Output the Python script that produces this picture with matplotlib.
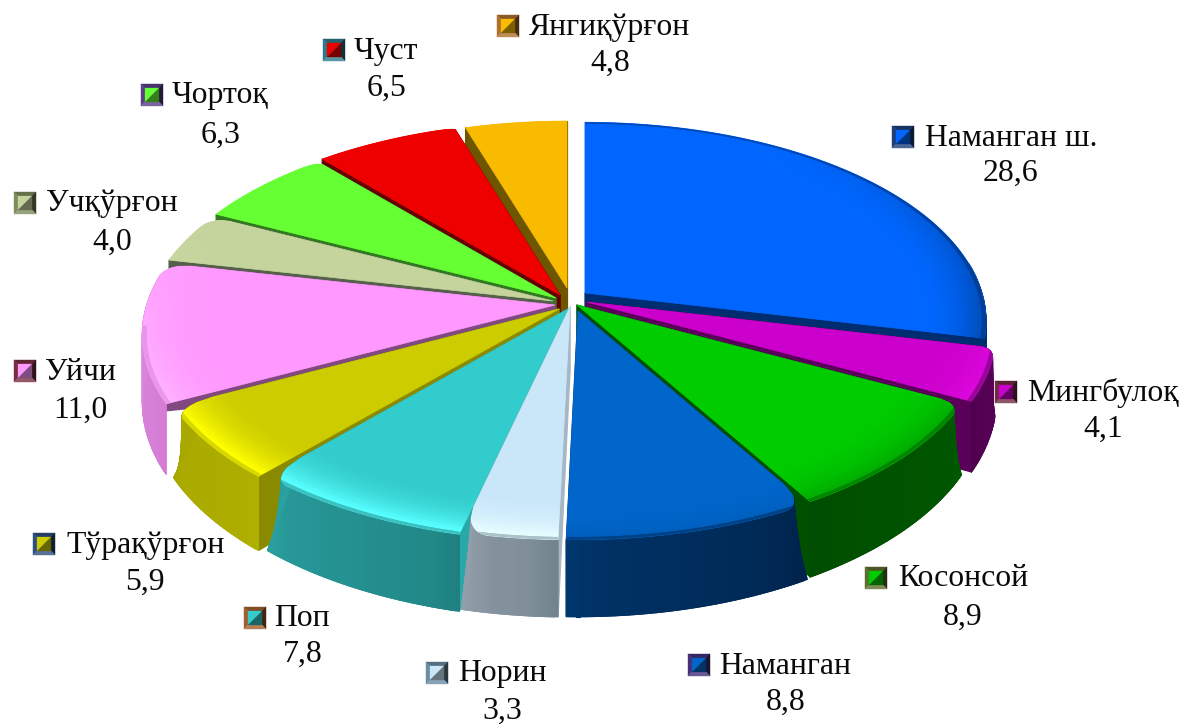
import numpy as np
import matplotlib
matplotlib.use("Agg")
import matplotlib.pyplot as plt
from matplotlib.colors import to_rgb
from matplotlib.patches import Polygon

# ---- data ----
categories = ["Наманган ш.", "Мингбулоқ", "Косонсой", "Наманган", "Норин", "Поп",
              "Тўрақўрғон", "Уйчи", "Учқўрғон", "Чортоқ", "Чуст", "Янгиқўрғон"]
values = [28.6, 4.1, 8.9, 8.8, 3.3, 7.8, 5.9, 11.0, 4.0, 6.3, 6.5, 4.8]

# ---- styles ----
top_col = ["#0066FF", "#CC00CC", "#00CC00", "#0066CC", "#CAE7FA", "#33CCCC",
           "#CCCC00", "#FF99FF", "#C5D49D", "#66FF33", "#EE0000", "#F9BB00"]
hi_col = ["#0050C0", "#DE08DE", "#00B000", "#0060C0", "#E6FDFF", "#58FFFF",
          "#FFFF00", "#FFB4FF", "#DCE8B8", "#78FF50", "#FF1010", "#FFC810"]
side_a = ["#002C70", "#5A005A", "#005A00", "#00234A", "#72838E", "#1F8080",
          "#B0B000", "#D47CD4", "#55604A", "#2F7A1E", "#660000", "#6E5500"]
side_b = ["#002C70", "#500050", "#004C00", "#00376E", "#929EA9", "#2AA0A0",
          "#A8A800", "#E08AE0", "#55604A", "#2F7A1E", "#660000", "#6E5500"]
strip = ["#002C70", "#5A005A", "#005000", "#00376E", "#A6B6C4", "#2AA8A8",
         "#8A8A00", "#804A80", "#55604A", "#2F7A1E", "#660000", "#6E5500"]
key_border = ["#1E3F7A", "#702C40", "#5E6E30", "#46307A", "#6A8CA4", "#A0602E",
              "#2C4E80", "#7A2E40", "#7C8C5C", "#5A3F8A", "#2E7A8A", "#B0702E"]
apex_x = [585, 587, 577, 578, 570, 568, 559, 555, 553, 556, 560, 567]
apex_y = [293, 302, 305, 311, 307, 309, 309, 305, 301, 298, 295, 288]
radius = [0.98, 1.0, 1.0, 0.985, 1.0, 1.0, 1.0, 1.008, 1.0, 1.0, 1.0, 0.955]
corner = [0.0, 0.03, 0.05, 0.09, 0.10, 0.10, 0.10, 0.06, 0.05, 0.02, 0.01, 0.0]
wall_z = [1, 1, 1, 1, 1, 1, 1, 0.1, 0.3, 1, 1, 1]

key_x = [892, 995, 865, 688, 426, 244, 33, 14, 14, 141, 323, 497]
key_y = [137, 392, 578, 665, 673, 618, 544, 371, 203, 95, 50, 26]
text_x = [925, 1027, 898, 719, 458, 274, 66, 45, 46, 172, 354, 529]
val_x = [1011, 1103, 963, 786, 502, 303, 145, 80, 112, 221, 386, 610]
val_y = [173, 429, 617, 702, 711, 654, 582, 410, 242, 135, 88, 63]

AX, AY, K, D = 405.0, 199.0, 0.145, 66.0
FONT = "Liberation Serif"
FS = 22.9


def proj(ax0, ay0, r, th, z=0.0):
    u, v = r * np.sin(th), r * np.cos(th)
    w = 1 + K * v
    return ax0 + AX * u / w, ay0 - AY * v / w + z * D / w


def mix(a, b, t):
    a, b = np.array(to_rgb(a)), np.array(to_rgb(b))
    return tuple(a + (b - a) * float(np.clip(t, 0, 1)))


fig = plt.figure(figsize=(11.84, 7.24), dpi=100)
ax = fig.add_axes([0, 0, 1, 1])
ax.set_xlim(0, 1184)
ax.set_ylim(724, 0)
ax.axis("off")

edges = np.r_[0, np.cumsum(values)] / np.sum(values) * 2 * np.pi
mids = (edges[:-1] + edges[1:]) / 2
order = np.argsort(-np.cos(mids))


def rim_fn(i, a0, a1):
    back_end = a0 if np.cos(a0) > np.cos(a1) else a1
    delta = np.radians(3.5)
    amt = corner[i]

    def f(t):
        d = np.clip(np.abs(t - back_end) / delta, 0, 1)
        return radius[i] * (1 - amt * (1 - np.sqrt(1 - (1 - d) ** 2)))
    return f


def poly(xs, ys, c, zo, lw=0.8):
    return ax.fill(xs, ys, facecolor=c, edgecolor=c, linewidth=lw, zorder=zo, joinstyle="round")[0]


zo = 1
for i in order:
    a0, a1 = edges[i], edges[i + 1]
    ox, oy = apex_x[i], apex_y[i]
    rim = rim_fn(i, a0, a1)
    n = max(16, int(np.degrees(a1 - a0) * 1.2))
    ths = np.unique(np.r_[np.linspace(a0, a1, n),
                          np.linspace(a0, a0 + np.radians(3.5), 10),
                          np.linspace(a1 - np.radians(3.5), a1, 10)])

    # radial walls
    for end in (a0, a1):
        x1, y1 = proj(ox, oy, rim(np.array(end)), end)
        x2, y2 = proj(ox, oy, radius[i], end, wall_z[i])
        x3, y3 = proj(ox, oy, 0.0, end, 1.0)
        poly([ox, x1, x2, x3], [oy, y1, y2, y3], strip[i], zo)
    zo += 1

    # outer wall with a colour ramp across the arc (quads overlap to avoid seams)
    for j in range(len(ths) - 1):
        jn = min(j + 2, len(ths) - 1)
        t = np.array([ths[j], ths[jn]])
        if np.cos(t.mean()) < 0.15:
            xt, yt = proj(ox, oy, rim(t), t)
            xb, yb = proj(ox, oy, radius[i], t, 1.0)
            poly([xt[0], xt[1], xb[1], xb[0]], [yt[0], yt[1], yb[1], yb[0]],
                 mix(side_a[i], side_b[i], j / (len(ths) - 2)), zo)
    zo += 1

    # flat top
    xt, yt = proj(ox, oy, rim(ths), ths)
    top = Polygon(np.c_[np.r_[ox, xt], np.r_[oy, yt]], closed=True, facecolor=top_col[i],
                  edgecolor=top_col[i], linewidth=0.5, zorder=zo)
    ax.add_patch(top)
    zo += 1

    # bevel band along the rim, cut off by the slice's outline
    rhos = np.linspace(0.84, 1.0, 17)
    ring_t = np.linspace(a0, a1, n)
    for k in range(len(rhos) - 1):
        rin = rhos[k] * radius[i]
        rout = rhos[min(k + 2, len(rhos) - 1)] * radius[i]
        f = ((rhos[k] + rhos[k + 1]) / 2 - 0.84) / 0.16
        for j in range(len(ring_t) - 1):
            jn = min(j + 2, len(ring_t) - 1)
            t = np.array([ring_t[j], ring_t[jn]])
            tm = t.mean()
            base_w = 0.85 - np.cos(tm) if i == 0 else 0.35 - np.cos(tm)
            weight = np.clip(base_w * 1.1, 0, 1.0)
            c = mix(top_col[i], hi_col[i], weight * f ** 2.0 * 1.2)
            if rhos[k] > 0.985 and (np.cos(tm) < -0.1 or i == 0):
                c = mix(c, side_a[i], 0.5)
            xi, yi = proj(ox, oy, rin, t)
            xo, yo = proj(ox, oy, rout, t)
            p = poly([xi[0], xi[1], xo[1], xo[0]], [yi[0], yi[1], yo[1], yo[0]], c, zo, lw=0)
            p.set_clip_path(top)
    zo += 1

# labels with bevelled legend keys
S = 11
B_W = 4
for i, name in enumerate(categories):
    cx, cy = key_x[i] + S, key_y[i]
    L, R, T, B = cx - S, cx + S, cy - S, cy + S
    il, ir, it, ib = L + B_W, R - B_W, T + B_W, B - B_W
    bc = key_border[i]
    poly([L, R, ir, il], [T, T, it, it], mix(bc, "#000000", 0.2), 100, lw=0.3)
    poly([L, il, il, L], [T, it, ib, B], bc, 100, lw=0.3)
    poly([R, ir, ir, R], [T, it, ib, B], mix(bc, "#000000", 0.6), 100, lw=0.3)
    poly([L, R, ir, il], [B, B, ib, ib], mix(bc, "#FFFFFF", 0.2), 100, lw=0.3)
    poly([il, ir, il], [it, it, ib], top_col[i], 101, lw=0.2)
    poly([ir, ir, il], [it, ib, ib], mix(top_col[i], "#000000", 0.5), 101, lw=0.2)
    ax.text(text_x[i], cy + 1, name, family=FONT, fontsize=FS, ha="left", va="center",
            color="#0A0A0A", zorder=102)
    ax.text(val_x[i], val_y[i], f"{values[i]:.1f}".replace(".", ","), family=FONT, fontsize=FS,
            ha="center", va="center", color="#0A0A0A", zorder=102)

fig.savefig("out.png", dpi=100, facecolor="white")
